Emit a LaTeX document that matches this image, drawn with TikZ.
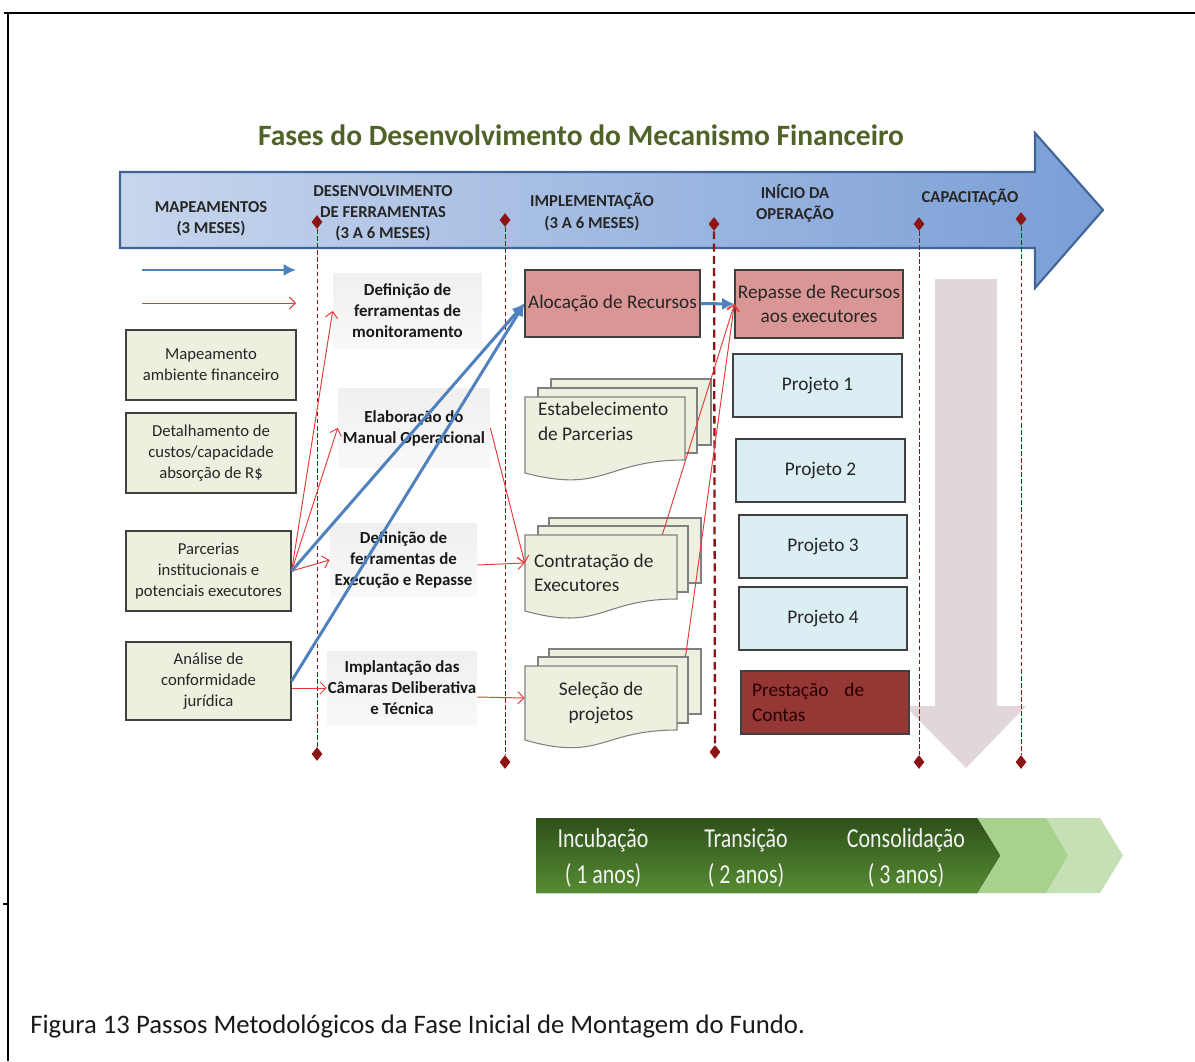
\documentclass[tikz,border=0pt]{standalone}
\usepackage{fontspec}
\setmainfont{Carlito}
\newfontfamily\narrowfont[FakeStretch=0.8]{Carlito}
\usetikzlibrary{arrows.meta,shapes.geometric}
\definecolor{titlegreen}{RGB}{79,98,40}
\definecolor{boxgreen}{RGB}{235,241,222}
\definecolor{boxred}{RGB}{217,150,148}
\definecolor{boxblue}{RGB}{219,238,243}
\definecolor{darkred}{RGB}{149,55,53}
\definecolor{arrowblue}{RGB}{79,129,189}
\definecolor{linkred}{RGB}{228,60,60}
\definecolor{markred}{RGB}{140,20,20}
\definecolor{bandedge}{RGB}{65,100,150}
\definecolor{palearrow}{RGB}{225,214,217}
\definecolor{bardark}{RGB}{46,80,26}
\definecolor{barlight}{RGB}{86,140,50}
\definecolor{chevone}{RGB}{169,209,142}
\definecolor{chevtwo}{RGB}{197,224,180}
\definecolor{inkgray}{RGB}{38,38,38}

\begin{document}
\begin{tikzpicture}[
      x=0.02cm, y=-0.02cm,
      header/.style={font=\fontsize{9.5}{12}\selectfont\bfseries, text=inkgray, align=center},
      mapbox/.style={rectangle, draw=black!75, line width=0.7pt, fill=boxgreen,
        inner sep=0pt, align=center, text=inkgray, font=\fontsize{9.5}{12}\selectfont},
      toolbox/.style={rectangle, draw=none, top color=gray!12, middle color=gray!30,
        bottom color=gray!5, inner sep=0pt, align=center, text=black!90,
        font=\fontsize{9.6}{12}\selectfont\bfseries},
      fundbox/.style={rectangle, draw=black!75, line width=0.7pt, inner sep=0pt,
        align=center, text=inkgray, font=\fontsize{11}{14}\selectfont},
      docback/.style={rectangle, draw=black!50, line width=0.6pt, fill=boxgreen, inner sep=0pt},
      docfront/.style={draw=black!50, line width=0.6pt, fill=boxgreen},
      doctext/.style={inner ysep=0pt, inner xsep=0.18cm, text width=2.68cm, align=flush left,
        text=inkgray, font=\fontsize{11}{14}\selectfont},
      phasemark/.style={diamond, fill=markred, inner sep=0pt, minimum width=0.22cm, minimum height=0.28cm},
      phaseline/.style={draw=markred, line width=0.5pt, dash pattern=on 2.5pt off 1.5pt},
      blueflow/.style={draw=arrowblue, line width=1.7pt, -{Latex[length=7pt,width=7pt]}},
      redflow/.style={draw=linkred, line width=0.55pt, -{Straight Barb[length=3.5pt,width=7pt]}},
      stage/.style={text=white!95!black, align=center, font=\fontsize{15.6}{20.5}\selectfont\narrowfont}
      ]
      \useasboundingbox (0,0) rectangle (1195,1061);
      % page frame
      \draw[line width=1.2pt] (4,13) -- (1195,13);
      \draw[line width=1.2pt] (8,13) -- (8,1061);
      \draw[line width=0.8pt] (3,904) -- (8,904);

      % big phase arrow
      \draw[bandedge, line width=1.2pt, left color={rgb,255:red,200;green,214;blue,237},
        middle color={rgb,255:red,232;green,238;blue,247}, right color={rgb,255:red,122;green,158;blue,214}]
        (120,172) -- (1035,172) -- (1035,133) -- (1103,210) -- (1035,288) -- (1035,248) -- (120,248) -- cycle;
      \node[font=\fontsize{16.8}{19}\selectfont\bfseries, text=titlegreen] (title) at (581,135)
        {Fases\ do\ Desenvolvimento\ do\ Mecanismo\ Financeiro};

      \node[header] (hmap) at (211,219) {MAPEAMENTOS\\(3 MESES)};
      \node[header] (hdev) at (383,213) {DESENVOLVIMENTO\\DE FERRAMENTAS\\(3 A 6 MESES)};
      \node[header] (himp) at (592,212) {IMPLEMENTAÇÃO\\(3 A 6 MESES)};
      \node[header] (hini) at (795,203) {INÍCIO DA\\OPERAÇÃO};
      \node[header] (hcap) at (970,197) {CAPACITAÇÃO};

      % pale down arrow
      \fill[palearrow] (935,279) -- (997,279) -- (997,706) -- (1026,706) -- (966,768)
        -- (905,706) -- (935,706) -- cycle;

      % phase markers
      \node[phasemark] (m1t) at (317,222) {};  \node[phasemark] (m1b) at (317,754) {};
      \node[phasemark] (m2t) at (505,220) {};  \node[phasemark] (m2b) at (505,762) {};
      \node[phasemark] (m3t) at (714,224) {};  \node[phasemark] (m3b) at (715,752) {};
      \node[phasemark] (m4t) at (919,224) {};  \node[phasemark] (m4b) at (919,762) {};
      \node[phasemark] (m5t) at (1021,219) {}; \node[phasemark] (m5b) at (1021,762) {};
      \draw[phaseline] (m1t) -- (m1b);
      \draw[phaseline] (m2t) -- (m2b);
      \draw[phaseline, line width=1.3pt, dash pattern=on 4.5pt off 2.5pt] (m3t) -- (m3b);
      \draw[phaseline] (m4t) -- (m4b);
      \draw[phaseline] (m5t) -- (m5b);

      % legend
      \coordinate (lb1) at (142,270); \coordinate (lb2) at (296,270);
      \coordinate (lr1) at (142,303); \coordinate (lr2) at (296,303);
      \draw[blueflow] (lb1) -- (lb2);
      \draw[redflow] (lr1) -- (lr2);

      % mapping column
      \node[mapbox, minimum width=3.4cm, minimum height=1.4cm] (map1) at (211,365)
        {Mapeamento\\ambiente financeiro};
      \node[mapbox, minimum width=3.4cm, minimum height=1.6cm] (map2) at (211,453)
        {Detalhamento de\\custos/capacidade\\absorção de R\$};
      \node[mapbox, minimum width=3.3cm, minimum height=1.6cm] (map3) at (208.5,571)
        {Parcerias\\institucionais e\\potenciais executores};
      \node[mapbox, minimum width=3.3cm, minimum height=1.56cm] (map4) at (208.5,681)
        {Análise de\\conformidade\\jurídica};

      % tools column
      \node[toolbox, minimum width=2.98cm, minimum height=1.52cm] (tool1) at (407.5,311)
        {Definição de\\ferramentas de\\monitoramento};
      \node[toolbox, minimum width=3.04cm, minimum height=1.6cm] (tool2) at (414,428)
        {Elaboração do\\Manual Operacional};
      \node[toolbox, minimum width=2.94cm, minimum height=1.46cm] (tool3) at (403.5,560)
        {Definição de\\ferramentas de\\Execução e Repasse};
      \node[toolbox, minimum width=3.0cm, minimum height=1.48cm] (tool4) at (402,688)
        {Implantação das\\Câmaras Deliberativa\\e Técnica};

      % implementation column
      \node[fundbox, fill=boxred, minimum width=3.5cm, minimum height=1.34cm] (aloc) at (612.5,303.5)
        {Alocação de Recursos};

      \node[docback, minimum width=3.2cm, minimum height=1.32cm] (estab3) at (631,412) {};
      \node[docback, minimum width=3.18cm, minimum height=1.3cm] (estab2) at (617.5,420.5) {};
      \filldraw[docfront] (525,397) -- (685,397) -- (685,460) .. controls (605,460) and (605,494) .. (525,473) -- cycle;
      \node[doctext] (estab) at (605,421.5) {Estabelecimento\\de Parcerias};

      \node[docback, minimum width=3.04cm, minimum height=1.3cm] (contr3) at (625,550.5) {};
      \node[docback, minimum width=3.0cm, minimum height=1.32cm] (contr2) at (613,559) {};
      \filldraw[docfront] (525,535) -- (677,535) -- (677,599) .. controls (601,599) and (601,632) .. (525,611) -- cycle;
      \node[doctext, minimum height=1.52cm] (contr) at (601,573) {Contratação de\\Executores};

      \node[docback, minimum width=3.04cm, minimum height=1.3cm] (sel3) at (625,681.5) {};
      \node[docback, minimum width=3.0cm, minimum height=1.32cm] (sel2) at (613,690) {};
      \filldraw[docfront] (525,666) -- (677,666) -- (677,730) .. controls (601,730) and (601,762) .. (525,740) -- cycle;
      \node[doctext, align=flush center, minimum height=1.48cm] (sel) at (601,703) {Seleção de\\projetos};

      % operation column
      \node[fundbox, fill=boxred, minimum width=3.36cm, minimum height=1.36cm] (repasse) at (819,304)
        {Repasse de Recursos\\aos executores};
      \node[fundbox, fill=boxblue, minimum width=3.38cm, minimum height=1.26cm] (proj1) at (817.5,385.5) {Projeto 1};
      \node[fundbox, fill=boxblue, minimum width=3.38cm, minimum height=1.26cm] (proj2) at (820.5,470.5) {Projeto 2};
      \node[fundbox, fill=boxblue, minimum width=3.36cm, minimum height=1.26cm] (proj3) at (823,546.5) {Projeto 3};
      \node[fundbox, fill=boxblue, minimum width=3.36cm, minimum height=1.26cm] (proj4) at (823,618.5) {Projeto 4};
      \node[fundbox, fill=darkred, text=black!85!red, align=flush left, inner xsep=0.22cm, text width=2.92cm,
        minimum height=1.26cm] (prest) at (825,702.5) {Prestação\hspace{0.6em} de\\Contas};

      % flows
      \draw[redflow] (map3.east) -- (tool1.west);
      \draw[redflow] (map3.east) -- (tool2.west);
      \draw[redflow] (map3.east) -- (tool3.west);
      \draw[redflow] (map4.east |- tool4.west) -- (tool4.west);
      \draw[redflow] (tool2.east) -- ([yshift=0.2cm]contr.west);
      \draw[redflow] ([yshift=-0.1cm]tool3.east) -- ([yshift=0.2cm]contr.west);
      \draw[redflow] ([yshift=-0.18cm]tool4.east) -- ([yshift=0.1cm]sel.west);
      \draw[redflow] ([xshift=-0.3cm]contr.north east) -- (repasse.west);
      \draw[redflow] ([xshift=-0.06cm]sel2.north east) -- (repasse.west);
      \draw[blueflow] (map3.east) -- (aloc.west);
      \draw[blueflow] (map4.east) -- (aloc.west);
      \draw[blueflow] (aloc.east) -- (repasse.west);

      % funding stages bar
      \fill[chevtwo] (1045,818) -- (1100,818) -- (1123,855.5) -- (1100,893) -- (1045,893) -- (1068,855.5) -- cycle;
      \fill[chevone] (977,818) -- (1046,818) -- (1068,855.5) -- (1046,893) -- (977,893) -- (1000,855.5) -- cycle;
      \fill[top color=bardark, bottom color=barlight] (536,818) -- (977,818) -- (1000,855.5) -- (977,893) -- (536,893) -- cycle;
      \node[stage] (incub) at (603,858) {Incubação\\( 1 anos)};
      \node[stage] (trans) at (746,858) {Transição\\( 2 anos)};
      \node[stage] (conso) at (906,858) {Consolidação\\( 3 anos)};

      \node[anchor=west, inner sep=0pt, font=\fontsize{15.2}{17}\selectfont, text=black!90] (caption) at (30,1027)
        {Figura 13 Passos Metodológicos da Fase Inicial de Montagem do Fundo.};
\end{tikzpicture}
\end{document}
